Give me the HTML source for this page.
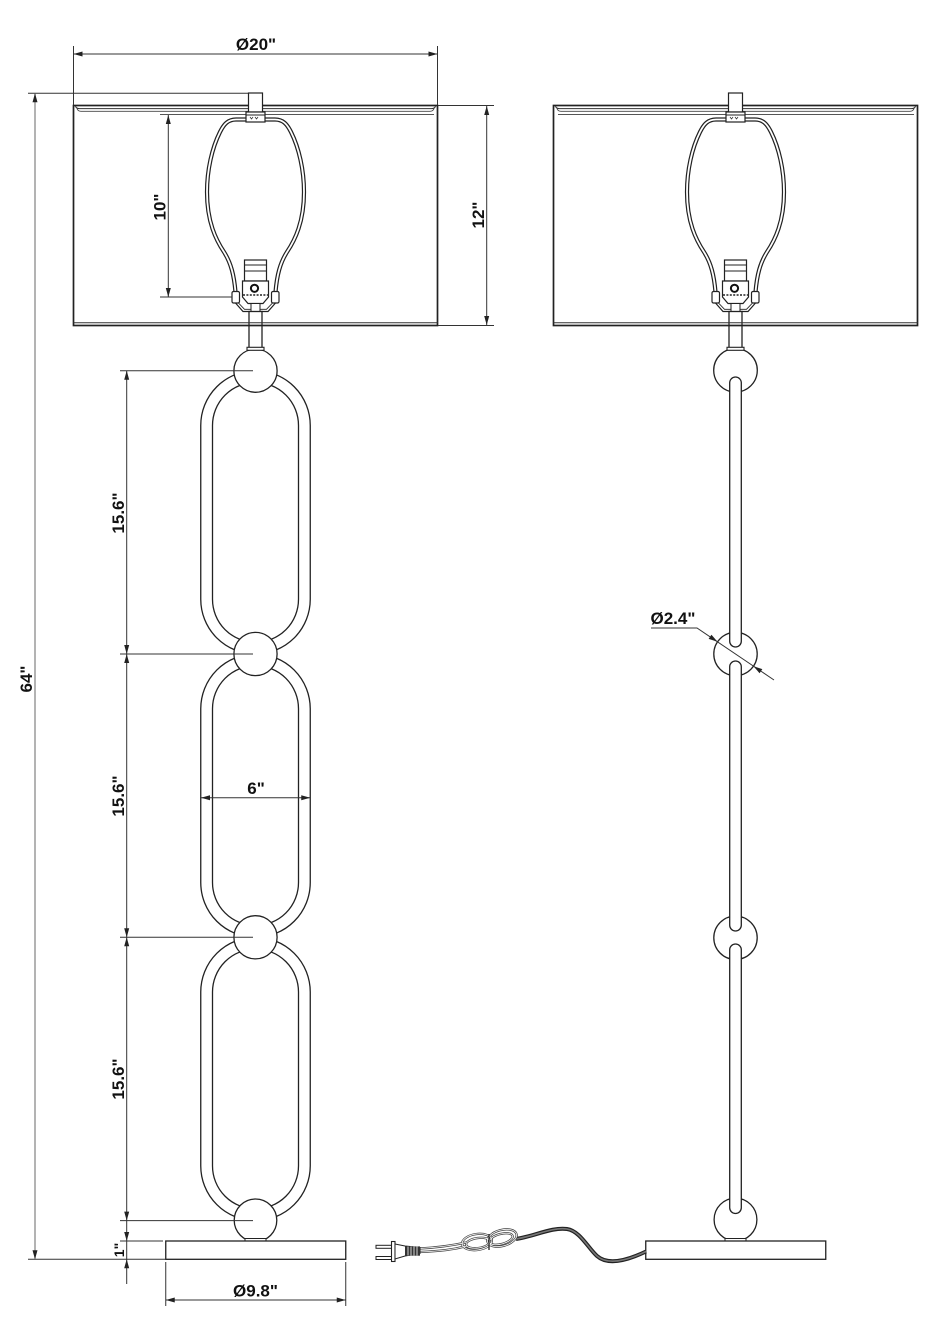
<!DOCTYPE html>
<html>
<head>
<meta charset="utf-8">
<style>
html,body{margin:0;padding:0;background:#fff;}
svg{display:block;}
text{font-family:"Liberation Sans",Arial,sans-serif;font-weight:bold;font-size:17px;fill:#111;}
</style>
</head>
<body>
<svg width="942" height="1336" viewBox="0 0 942 1336" xmlns="http://www.w3.org/2000/svg">
<rect width="942" height="1336" fill="#fff"/>
<defs>
  <g id="harpside">
    <path d="M246,119.5 L236,119.5 C228,119.5 224,124 220,132 C212,148 207,170 207,192 C207,222 216,240 224,252 C231,263 234,275 235.5,292" fill="none" stroke="#222" stroke-width="4.2"/>
    <path d="M246,119.5 L236,119.5 C228,119.5 224,124 220,132 C212,148 207,170 207,192 C207,222 216,240 224,252 C231,263 234,275 235.5,292" fill="none" stroke="#fff" stroke-width="1.8"/>
    <rect x="232" y="291.5" width="7.5" height="11.5" rx="1.5" fill="#fff" stroke="#222" stroke-width="1.2"/>
  </g>
  <g id="top">
    <use href="#harpside"/>
    <use href="#harpside" transform="matrix(-1,0,0,1,511,0)"/>
    <path d="M235.5,303 L243,311.5 L268,311.5 L275.5,303" fill="none" stroke="#222" stroke-width="1.2"/>
    <path d="M238.5,303 L244.5,309.3 L266.5,309.3 L272.5,303" fill="none" stroke="#222" stroke-width="0.9"/>
    <rect x="244.5" y="260" width="22" height="21" fill="#fff" stroke="#222" stroke-width="1.2"/>
    <line x1="244.5" y1="265" x2="266.5" y2="265" stroke="#222" stroke-width="1"/>
    <line x1="244.5" y1="271" x2="266.5" y2="271" stroke="#222" stroke-width="1"/>
    <path d="M242.5,281 L268.5,281 L268.5,297 L263,303.5 L248,303.5 L242.5,297 Z" fill="#fff" stroke="#222" stroke-width="1.2"/>
    <circle cx="254.5" cy="288.3" r="3.6" fill="#fff" stroke="#111" stroke-width="2"/>
    <line x1="243" y1="295" x2="268" y2="295" stroke="#222" stroke-width="1.6" stroke-dasharray="2 1.4"/>
    <rect x="251" y="303.5" width="9" height="8" fill="#fff" stroke="#222" stroke-width="1"/>
    <rect x="249" y="311.5" width="13" height="37" fill="#fff" stroke="#222" stroke-width="1.3"/>
    <rect x="247" y="347.3" width="17" height="3" fill="#fff" stroke="#222" stroke-width="1.1"/>
    <rect x="73.5" y="105.5" width="364" height="220" fill="none" stroke="#222" stroke-width="1.7"/>
    <path d="M75.5,106 Q76,108.6 79.5,108.6 L431.5,108.6 Q435,108.6 435.5,106" fill="none" stroke="#333" stroke-width="1"/>
    <path d="M77,108.6 Q78,111.3 81,111.3 L430,111.3 Q433,111.3 434,108.6" fill="none" stroke="#444" stroke-width="0.9"/>
    <line x1="73.5" y1="322.8" x2="437.5" y2="322.8" stroke="#333" stroke-width="1"/>
    <rect x="248.5" y="93" width="14" height="19" fill="#fff" stroke="#222" stroke-width="1.2"/>
    <rect x="246" y="112" width="19" height="10" fill="#fff" stroke="#222" stroke-width="1.2"/>
    <line x1="246" y1="115" x2="265" y2="115" stroke="#222" stroke-width="1"/>
    <path d="M250,117 l1.5,2 l1.5,-2 M255,117 l1.5,2 l1.5,-2" fill="none" stroke="#333" stroke-width="0.8"/>
  </g>
</defs>

<line x1="160" y1="114.5" x2="246" y2="114.5" stroke="#555" stroke-width="0.9"/>
<line x1="265" y1="114.5" x2="434" y2="114.5" stroke="#555" stroke-width="0.9"/>
<line x1="558" y1="114.5" x2="726" y2="114.5" stroke="#555" stroke-width="0.9"/>
<line x1="745" y1="114.5" x2="914" y2="114.5" stroke="#555" stroke-width="0.9"/>

<!-- LEFT LAMP -->
<g fill="none" stroke="#222" stroke-width="1.3">
  <path d="M200.75,425.45 A54.75,54.75 0 0 1 310.25,425.45 L310.25,599.25 A54.75,54.75 0 0 1 200.75,599.25 Z"/>
  <path d="M212.5,425.45 A43,43 0 0 1 298.5,425.45 L298.5,599.25 A43,43 0 0 1 212.5,599.25 Z"/>
  <path d="M200.75,708.75 A54.75,54.75 0 0 1 310.25,708.75 L310.25,882.55 A54.75,54.75 0 0 1 200.75,882.55 Z"/>
  <path d="M212.5,708.75 A43,43 0 0 1 298.5,708.75 L298.5,882.55 A43,43 0 0 1 212.5,882.55 Z"/>
  <path d="M200.75,992.05 A54.75,54.75 0 0 1 310.25,992.05 L310.25,1165.85 A54.75,54.75 0 0 1 200.75,1165.85 Z"/>
  <path d="M212.5,992.05 A43,43 0 0 1 298.5,992.05 L298.5,1165.85 A43,43 0 0 1 212.5,1165.85 Z"/>
</g>
<g fill="#fff" stroke="#222" stroke-width="1.3">
  <circle cx="255.5" cy="370.7" r="21.6"/>
  <circle cx="255.5" cy="654" r="21.6"/>
  <circle cx="255.5" cy="937.3" r="21.6"/>
  <circle cx="255.5" cy="1220.3" r="21.3"/>
  <rect x="245" y="1238.5" width="21" height="2.8" stroke-width="1"/>
  <rect x="165.75" y="1241" width="180" height="18.3" stroke-width="1.3"/>
</g>
<use href="#top"/>

<!-- RIGHT LAMP -->
<g fill="#fff" stroke="#222" stroke-width="1.3">
  <circle cx="735.5" cy="370.3" r="21.8"/>
  <circle cx="735.5" cy="654" r="21.7"/>
  <circle cx="735.5" cy="937.8" r="21.7"/>
  <circle cx="735.5" cy="1219.6" r="21.4"/>
  <rect x="729.7" y="377" width="11.6" height="270" rx="5.8"/>
  <rect x="729.7" y="661" width="11.6" height="270" rx="5.8"/>
  <rect x="729.7" y="944" width="11.6" height="269.5" rx="5.8"/>
  <rect x="725" y="1238.5" width="21" height="2.8" stroke-width="1"/>
  <rect x="645.75" y="1241" width="180" height="18.3" stroke-width="1.3"/>
</g>
<use href="#top" transform="translate(480,0)"/>

<!-- CORD & PLUG -->
<path d="M516,1239 C535,1236 552,1227 567,1229 C580,1231 588,1248 597,1256 C606,1264 622,1263 646,1251.5" fill="none" stroke="#222" stroke-width="4"/>
<path d="M516,1239 C535,1236 552,1227 567,1229 C580,1231 588,1248 597,1256 C606,1264 622,1263 646,1251.5" fill="none" stroke="#777" stroke-width="1.6"/>
<g fill="none" stroke="#444" stroke-width="2.3">
  <path d="M420,1248.5 C438,1247.5 450,1246 466,1242.5"/>
  <path d="M420,1252 C440,1251 452,1250 467,1246"/>
  <ellipse cx="477" cy="1242" rx="15" ry="8" transform="rotate(-8 477 1242)"/>
  <ellipse cx="478" cy="1243" rx="12" ry="5" transform="rotate(-8 478 1243)"/>
  <ellipse cx="502" cy="1238" rx="15" ry="8" transform="rotate(-15 502 1238)"/>
  <ellipse cx="501" cy="1239" rx="12" ry="5" transform="rotate(-15 501 1239)"/>
</g>
<g fill="none" stroke="#fff" stroke-width="0.8">
  <path d="M420,1248.5 C438,1247.5 450,1246 466,1242.5"/>
  <path d="M420,1252 C440,1251 452,1250 467,1246"/>
  <ellipse cx="477" cy="1242" rx="15" ry="8" transform="rotate(-8 477 1242)"/>
  <ellipse cx="478" cy="1243" rx="12" ry="5" transform="rotate(-8 478 1243)"/>
  <ellipse cx="502" cy="1238" rx="15" ry="8" transform="rotate(-15 502 1238)"/>
  <ellipse cx="501" cy="1239" rx="12" ry="5" transform="rotate(-15 501 1239)"/>
</g>
<line x1="489" y1="1234" x2="489" y2="1250" stroke="#222" stroke-width="1.3"/>
<rect x="376" y="1245.3" width="16" height="3" fill="#fff" stroke="#222" stroke-width="1"/>
<rect x="376" y="1256.5" width="16" height="3" fill="#fff" stroke="#222" stroke-width="1"/>
<rect x="391.5" y="1241.5" width="3.5" height="20" fill="#fff" stroke="#222" stroke-width="1.1"/>
<path d="M395,1244 L405,1246 L420,1247.5 L420,1253.5 L405,1256 L395,1259 Z" fill="#fff" stroke="#222" stroke-width="1"/>
<rect x="405" y="1246.4" width="15" height="9.3" fill="#333"/>
<g stroke="#fff" stroke-width="0.8">
  <line x1="408" y1="1246.5" x2="408" y2="1255.5"/>
  <line x1="411" y1="1246.5" x2="411" y2="1255.5"/>
  <line x1="414" y1="1246.5" x2="414" y2="1255.5"/>
  <line x1="417" y1="1246.5" x2="417" y2="1255.5"/>
</g>

<!-- DIMENSIONS -->
<g stroke="#333" stroke-width="1" fill="none">
  <line x1="73.5" y1="54" x2="437.5" y2="54"/>
  <line x1="73.5" y1="46" x2="73.5" y2="105"/>
  <line x1="437.5" y1="46" x2="437.5" y2="105"/>
  <line x1="486.7" y1="106" x2="486.7" y2="325"/>
  <line x1="438" y1="105.5" x2="494" y2="105.5"/>
  <line x1="438" y1="325.5" x2="494" y2="325.5"/>
  <line x1="168.3" y1="115" x2="168.3" y2="297"/>
  <line x1="160" y1="297" x2="232" y2="297"/>
  <line x1="28" y1="93.3" x2="248" y2="93.3"/>
  <line x1="28" y1="1259.3" x2="166" y2="1259.3"/>
  <line x1="126.7" y1="370.7" x2="126.7" y2="1284"/>
  <line x1="120" y1="370.7" x2="253" y2="370.7"/>
  <line x1="120" y1="654" x2="253" y2="654"/>
  <line x1="120" y1="937.3" x2="253" y2="937.3"/>
  <line x1="120" y1="1220.6" x2="253" y2="1220.6"/>
  <line x1="120" y1="1241" x2="163" y2="1241"/>
  <line x1="201" y1="797.7" x2="310.25" y2="797.7"/>
  <line x1="165.75" y1="1300" x2="345.75" y2="1300"/>
  <line x1="165.75" y1="1262" x2="165.75" y2="1306"/>
  <line x1="345.75" y1="1262" x2="345.75" y2="1306"/>
  <polyline points="651,628 697,628 774,680"/>
</g>
<line x1="35" y1="94" x2="35" y2="1259" stroke="#8a8a8a" stroke-width="1.3"/>
<g fill="#222">
  <polygon points="73.5,54 82.5,51.5 82.5,56.5"/>
  <polygon points="437.5,54 428.5,51.5 428.5,56.5"/>
  <polygon points="486.7,106 484.2,115 489.2,115"/>
  <polygon points="486.7,325 484.2,316 489.2,316"/>
  <polygon points="168.3,115 165.8,124 170.8,124"/>
  <polygon points="168.3,297 165.8,288 170.8,288"/>
  <polygon points="35,93.3 32.5,102.3 37.5,102.3"/>
  <polygon points="35,1259.3 32.5,1250.3 37.5,1250.3"/>
  <polygon points="126.7,370.7 124.2,379.7 129.2,379.7"/>
  <polygon points="126.7,654 124.2,645 129.2,645"/>
  <polygon points="126.7,654 124.2,663 129.2,663"/>
  <polygon points="126.7,937.3 124.2,928.3 129.2,928.3"/>
  <polygon points="126.7,937.3 124.2,946.3 129.2,946.3"/>
  <polygon points="126.7,1220.6 124.2,1211.6 129.2,1211.6"/>
  <polygon points="126.7,1241 124.2,1232 129.2,1232"/>
  <polygon points="126.7,1259.3 124.2,1268.3 129.2,1268.3"/>
  <polygon points="201,797.7 210,795.2 210,800.2"/>
  <polygon points="310.25,797.7 301.25,795.2 301.25,800.2"/>
  <polygon points="165.75,1300 174.75,1297.5 174.75,1302.5"/>
  <polygon points="345.75,1300 336.75,1297.5 336.75,1302.5"/>
  <polygon points="0,0 -9,-2.5 -9,2.5" transform="translate(717.5,641.8) rotate(34)"/>
  <polygon points="0,0 -9,-2.5 -9,2.5" transform="translate(753.5,666.2) rotate(214)"/>
</g>

<!-- LABELS -->
<text x="256" y="50" text-anchor="middle">Ø20"</text>
<text x="256" y="794" text-anchor="middle">6"</text>
<text x="255.5" y="1296.5" text-anchor="middle">Ø9.8"</text>
<text x="650.5" y="624">Ø2.4"</text>
<text transform="translate(484,215) rotate(-90)" text-anchor="middle">12"</text>
<text transform="translate(165.5,207) rotate(-90)" text-anchor="middle">10"</text>
<text transform="translate(32,679) rotate(-90)" text-anchor="middle">64"</text>
<text transform="translate(124,513) rotate(-90)" text-anchor="middle">15.6"</text>
<text transform="translate(124,796) rotate(-90)" text-anchor="middle">15.6"</text>
<text transform="translate(124,1079) rotate(-90)" text-anchor="middle">15.6"</text>
<text transform="translate(124,1250) rotate(-90)" text-anchor="middle" style="font-size:14px">1"</text>
</svg>
</body>
</html>
